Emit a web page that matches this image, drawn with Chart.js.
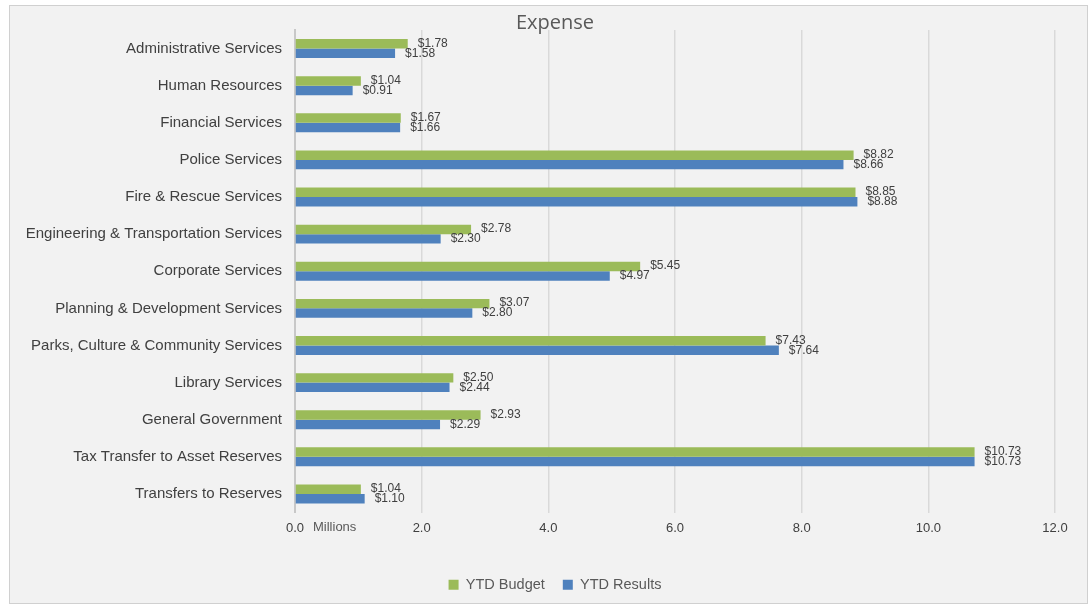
<!DOCTYPE html>
<html>
<head>
<meta charset="utf-8">
<script src="https://cdn.jsdelivr.net/npm/chart.js@4/dist/chart.umd.min.js"></script>
<style>
  html, body { margin: 0; padding: 0; background: #ffffff; }
  canvas { display: block; }
</style>
</head>
<body>
<canvas id="c" width="1090" height="605"></canvas>
<script>
const categories = [
  "Administrative Services",
  "Human Resources",
  "Financial Services",
  "Police Services",
  "Fire & Rescue Services",
  "Engineering & Transportation Services",
  "Corporate Services",
  "Planning & Development Services",
  "Parks, Culture & Community Services",
  "Library Services",
  "General Government",
  "Tax Transfer to Asset Reserves",
  "Transfers to Reserves"
];
const ytdBudget  = [1.78, 1.04, 1.67, 8.82, 8.85, 2.78, 5.45, 3.07, 7.43, 2.50, 2.93, 10.73, 1.04];
const ytdResults = [1.58, 0.91, 1.66, 8.66, 8.88, 2.30, 4.97, 2.80, 7.64, 2.44, 2.29, 10.73, 1.10];
const xTicks = [0, 2, 4, 6, 8, 10, 12];
const titleText = "Expense";
const unitLabel = "Millions";

const TEXT_FONT = "'Liberation Sans', Arial, sans-serif";

const panelPlugin = {
  id: 'panel',
  afterLayout(chart) {
    // centre title and legend over the panel rather than the layout box
    if (chart.titleBlock) { chart.titleBlock.left = 55; }
    if (chart.legend) { chart.legend.left = 55; }
  },
  beforeDraw(chart) {
    const ctx = chart.ctx;
    ctx.save();
    ctx.fillStyle = '#ffffff';
    ctx.fillRect(0, 0, chart.width, chart.height);
    ctx.fillStyle = '#f2f2f2';
    ctx.fillRect(10, 6, 1077, 597);
    ctx.strokeStyle = '#d0d0d0';
    ctx.lineWidth = 1;
    ctx.strokeRect(9.5, 5.5, 1078, 598);
    ctx.restore();
  }
};

const labelPlugin = {
  id: 'valueLabels',
  afterDatasetsDraw(chart) {
    const ctx = chart.ctx;
    ctx.save();
    ctx.font = "12px " + TEXT_FONT;
    ctx.fillStyle = '#404040';
    ctx.textAlign = 'left';
    ctx.textBaseline = 'middle';
    chart.data.datasets.forEach((ds, di) => {
      const meta = chart.getDatasetMeta(di);
      meta.data.forEach((el, i) => {
        const v = ds.data[i];
        ctx.fillText('$' + v.toFixed(2), el.x + 10, el.y + (di === 0 ? -0.5 : 0));
      });
    });
    const xs = chart.scales.x;
    ctx.font = "13px " + TEXT_FONT;
    ctx.fillStyle = '#595959';
    ctx.fillText(unitLabel, xs.getPixelForValue(0) + 18, chart.chartArea.bottom + 15);
    ctx.restore();
  }
};

new Chart(document.getElementById('c'), {
  type: 'bar',
  data: {
    labels: categories,
    datasets: [
      { label: 'YTD Budget', data: ytdBudget, backgroundColor: '#9bbb59', borderWidth: 0 },
      { label: 'YTD Results', data: ytdResults, backgroundColor: '#4f81bd', borderWidth: 0 }
    ]
  },
  options: {
    indexAxis: 'y',
    responsive: false,
    animation: false,
    devicePixelRatio: 1,
    layout: { padding: { left: 0, right: 35, top: 0, bottom: 3 } },
    datasets: { bar: { barPercentage: 1.0, categoryPercentage: 0.51 } },
    scales: {
      x: {
        min: 0, max: 12,
        afterBuildTicks(scale) { scale.ticks = xTicks.map(v => ({ value: v })); },
        afterFit(scale) { scale.height = 47; },
        grid: { color: '#d9d9d9', lineWidth: 1.5, drawTicks: false },
        border: { display: false },
        ticks: {
          padding: 8,
          color: '#404040',
          font: { family: TEXT_FONT, size: 13 },
          callback: v => Number(v).toFixed(1)
        }
      },
      y: {
        afterFit(scale) { scale.width = 295; },
        grid: { display: false, drawTicks: false },
        border: { display: true, color: '#c8c8c8', width: 2 },
        ticks: {
          padding: 13,
          color: '#404040',
          font: { family: TEXT_FONT, size: 15 },
          autoSkip: false
        }
      }
    },
    plugins: {
      title: {
        display: true,
        text: titleText,
        color: '#595959',
        font: { family: "'Open Sans', sans-serif", size: 20, weight: 'normal', lineHeight: 0.7 },
        padding: { top: 16, bottom: 0 }
      },
      legend: {
        position: 'bottom',
        labels: {
          boxWidth: 10,
          boxHeight: 10,
          color: '#595959',
          font: { family: TEXT_FONT, size: 14.5 },
          padding: 18
        }
      },
      tooltip: { enabled: false }
    }
  },
  plugins: [panelPlugin, labelPlugin]
});
</script>
</body>
</html>
